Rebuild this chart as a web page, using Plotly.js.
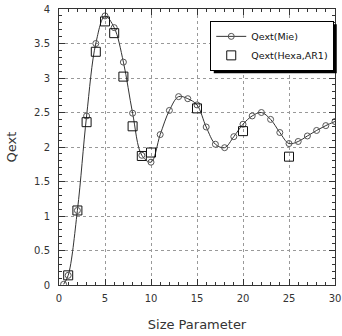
<!DOCTYPE html>
<html><head><meta charset="utf-8">
<script src="https://cdn.plot.ly/plotly-3.0.1.min.js"></script>
<style>html,body{margin:0;padding:0;background:#fff}#chart{width:342px;height:336px}</style>
</head><body><div id="chart"></div>
<script>
const mieX = [0.5,1,2,3,4,5,6,7,8,9,10,11,12,13,14,15,16,17,18,19,20,21,22,23,24,25,26,27,28,29,30];
const mieY = [0.01,0.14,1.08,2.45,3.50,3.90,3.73,3.23,2.49,1.88,1.78,2.18,2.53,2.73,2.70,2.61,2.29,2.04,1.99,2.15,2.33,2.45,2.50,2.40,2.21,2.05,2.08,2.16,2.24,2.31,2.37];
const hexX = [1,2,3,4,5,6,7,8,9,10,15,20,25];
const hexY = [0.14,1.08,2.36,3.38,3.82,3.65,3.02,2.30,1.87,1.92,2.56,2.23,1.86];
const xTicks = [0,5,10,15,20,25,30];
const yTicks = [0,0.5,1,1.5,2,2.5,3,3.5,4];

const font = {family:'DejaVu Sans, sans-serif', size:10, color:'#333'};
const traces = [
  {x:mieX, y:mieY, name:'Qext(Mie)', mode:'lines+markers', type:'scatter', legendgroup:'a',
   line:{color:'#333', width:1, shape:'spline', smoothing:1},
   marker:{symbol:'circle-open', size:6, color:'#555', line:{width:1}}},
  {x:hexX, y:hexY, name:'Qext(Hexa,AR1)', mode:'markers', type:'scatter', legendgroup:'b',
   marker:{symbol:'square-open', size:9, color:'#111', line:{width:1}}}
];
const axisCommon = {
  showline:true, linecolor:'#333', linewidth:1, mirror:'ticks',
  ticks:'inside', ticklen:6, tickcolor:'#333',
  showgrid:true, gridcolor:'#999', griddash:'dot', gridwidth:1,
  zeroline:false, tickfont:font, ticklabeloverflow:'allow'
};
const M = {l:59, r:7, t:9, b:51};
const layout = {
  width:342, height:336,
  margin:M,
  paper_bgcolor:'#fff', plot_bgcolor:'#fff',
  showlegend:true,
  font:font,
  xaxis:Object.assign({}, axisCommon, {
    range:[0,30], tickvals:xTicks, ticktext:xTicks.map(String),
    minor:{dtick:1, ticks:'inside', ticklen:3, tickcolor:'#333', showgrid:false},
    ticklabelstandoff:4,
    title:{text:'Size Parameter', font:{family:'DejaVu Sans, sans-serif', size:13, color:'#333'}, standoff:16}
  }),
  yaxis:Object.assign({}, axisCommon, {
    range:[0,4], tickvals:yTicks, ticktext:yTicks.map(String),
    minor:{dtick:0.1, ticks:'inside', ticklen:3, tickcolor:'#333', showgrid:false},
    ticklabelstandoff:6,
    title:{text:'Qext', font:{family:'DejaVu Sans, sans-serif', size:13, color:'#333'}, standoff:14}
  }),
  legend:{x:0.548, y:0.957, xanchor:'left', yanchor:'top',
    bgcolor:'#fff', bordercolor:'#000', borderwidth:1,
    font:{family:'DejaVu Sans, sans-serif', size:9.5, color:'#111'},
    traceorder:'grouped', tracegroupgap:0}
};
Plotly.newPlot('chart', traces, layout, {displayModeBar:false, staticPlot:true}).then(function(gd){
  const bg = gd.querySelector('.legend .bg');
  if (!bg) return;
  const r = bg.getBoundingClientRect();
  const c = gd.getBoundingClientRect();
  const pw = 342 - M.l - M.r, ph = 336 - M.t - M.b;
  const off = 3;
  const px = v => (v - c.left - M.l) / pw;
  const py = v => 1 - (v - c.top - M.t) / ph;
  return Plotly.relayout(gd, {shapes:[{type:'rect', xref:'paper', yref:'paper', layer:'above',
    x0:px(r.left + off), x1:px(r.right + off), y0:py(r.bottom + off), y1:py(r.top + off),
    fillcolor:'#000', line:{width:0}}]});
});
</script></body></html>
